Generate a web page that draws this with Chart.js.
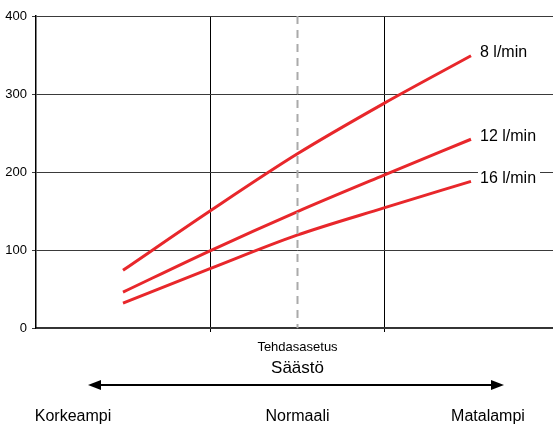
<!DOCTYPE html>
<html>
<head>
<meta charset="utf-8">
<script src="https://cdn.jsdelivr.net/npm/chart.js@4"></script>
<style>
    html, body { margin: 0; padding: 0; background: #fff; }
    #wrap { width: 553px; height: 426px; overflow: hidden; }
</style>
</head>
<body>
<div id="wrap"><canvas id="chart" width="560" height="426"></canvas></div>
<script>
// setting positions along the x axis (0 = left edge, 3 = right edge)
const xPositions = [0.5, 1, 1.5, 2, 2.5];
const seriesNames = ["8 l/min", "12 l/min", "16 l/min"];
const flow8 = [74, 150, 223, 288, 349];
const flow12 = [46, 99, 149, 196, 242];
const flow16 = [32, 76, 119, 154, 188];
const yTicks = [0, 100, 200, 300, 400];
const factorySetting = 1.5;
const bottomLabels = ["Korkeampi", "Normaali", "Matalampi"];

const RED = "#e8272b";
const FONT = "'Liberation Sans', Arial, sans-serif";

function toPoints(vals) {
    return vals.map((v, i) => ({ x: xPositions[i], y: v }));
}

const extras = {
    id: "extras",
    afterDatasetsDraw(chart) {
        const ctx = chart.ctx;
        const xs = chart.scales.x;
        const ys = chart.scales.y;
        const area = chart.chartArea;

        // dashed factory setting line
        const dx = Math.round(xs.getPixelForValue(factorySetting)) + 0.5;
        ctx.save();
        ctx.strokeStyle = "#aaaaaa";
        ctx.lineWidth = 2;
        ctx.setLineDash([8, 6]);
        ctx.beginPath();
        ctx.moveTo(dx, area.top);
        ctx.lineTo(dx, area.bottom);
        ctx.stroke();
        ctx.restore();

        // series labels at line ends
        ctx.save();
        ctx.font = "16px " + FONT;
        ctx.textBaseline = "middle";
        chart.data.datasets.forEach((ds) => {
            const last = ds.data[ds.data.length - 1];
            const px = xs.getPixelForValue(last.x) + 9;
            const py = ys.getPixelForValue(last.y) - 3;
            const w = ctx.measureText(ds.label).width;
            ctx.fillStyle = "#fff";
            ctx.fillRect(px - 2, py - 8, w + 6, 16);
            ctx.fillStyle = "#000";
            ctx.fillText(ds.label, px, py);
        });
        ctx.restore();

        // texts and arrow below the plot
        ctx.save();
        ctx.fillStyle = "#000";
        ctx.textAlign = "center";
        ctx.textBaseline = "middle";
        ctx.font = "13px " + FONT;
        ctx.fillText("Tehdasasetus", dx, 347);
        ctx.font = "17px " + FONT;
        ctx.fillText("Säästö", dx, 368);

        const ay = 385, ax1 = 88, ax2 = 504;
        ctx.strokeStyle = "#000";
        ctx.lineWidth = 2;
        ctx.beginPath();
        ctx.moveTo(ax1 + 10, ay);
        ctx.lineTo(ax2 - 10, ay);
        ctx.stroke();
        ctx.beginPath();
        ctx.moveTo(ax1, ay);
        ctx.lineTo(ax1 + 13, ay - 5);
        ctx.lineTo(ax1 + 13, ay + 5);
        ctx.closePath();
        ctx.fill();
        ctx.beginPath();
        ctx.moveTo(ax2, ay);
        ctx.lineTo(ax2 - 13, ay - 5);
        ctx.lineTo(ax2 - 13, ay + 5);
        ctx.closePath();
        ctx.fill();

        ctx.font = "16px " + FONT;
        const lx = [73, dx, 488];
        bottomLabels.forEach((t, i) => ctx.fillText(t, lx[i], 417));
        ctx.restore();
    }
};

new Chart(document.getElementById("chart"), {
    type: "scatter",
    data: {
        datasets: [
            { label: seriesNames[0], data: toPoints(flow8) },
            { label: seriesNames[1], data: toPoints(flow12) },
            { label: seriesNames[2], data: toPoints(flow16) }
        ].map(d => Object.assign(d, {
            showLine: true,
            borderColor: RED,
            backgroundColor: RED,
            borderWidth: 3,
            pointRadius: 0,
            cubicInterpolationMode: "monotone",
            borderCapStyle: "butt"
        }))
    },
    options: {
        responsive: false,
        animation: false,
        layout: { padding: { top: 16, bottom: 98, left: 0, right: 2 } },
        plugins: {
            legend: { display: false },
            tooltip: { enabled: false }
        },
        scales: {
            x: {
                type: "linear",
                min: 0,
                max: 3,
                afterFit: s => { s.height = 0; },
                ticks: { display: false, stepSize: 1 },
                grid: {
                    color: c => (c.tick && (c.tick.value === 1 || c.tick.value === 2)) ? "#000" : "rgba(0,0,0,0)",
                    lineWidth: 1,
                    drawTicks: true,
                    tickLength: 4
                },
                border: { color: "#333", width: 1.5 }
            },
            y: {
                min: yTicks[0],
                max: yTicks[yTicks.length - 1],
                afterFit: s => { s.width = 36; },
                afterBuildTicks: s => { s.ticks = yTicks.map(v => ({ value: v })); },
                ticks: {
                    color: "#000",
                    padding: 5,
                    font: { family: FONT, size: 13 }
                },
                grid: {
                    color: "#3a3a3a",
                    lineWidth: 1,
                    tickLength: 4
                },
                border: { color: "#000", width: 1.5 }
            }
        }
    },
    plugins: [extras]
});
</script>
</body>
</html>
